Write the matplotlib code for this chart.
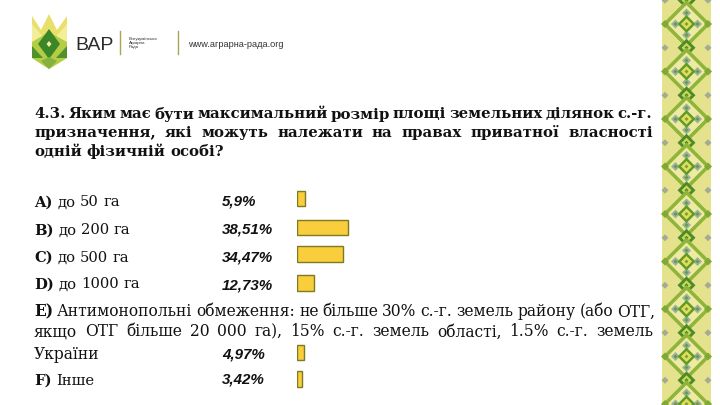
import matplotlib
matplotlib.use('Agg')
import matplotlib.pyplot as plt
from matplotlib.patches import Polygon, Rectangle

# answers and shares (%)
letters = ['A)', 'B)', 'C)', 'D)', 'E)', 'F)']
answers = ['до 50 га', 'до 200 га', ' до 500 га', 'до 1000 га', None, 'Інше']
shares = [5.9, 38.51, 34.47, 12.73, 4.97, 3.42]
share_labels = ['5,9%', '38,51%', '34,47%', '12,73%', '4,97%', '3,42%']

title_lines = [
    '4.3. Яким має бути максимальний розмір площі земельних ділянок с.-г.',
    'призначення, які можуть належати на правах приватної власності',
    'одній фізичній особі?',
]
e_lines = [
    'Антимонопольні обмеження: не більше 30% с.-г. земель району (або ОТГ,',
    'якщо ОТГ більше 20 000 га), 15% с.-г. земель області, 1.5% с.-г. земель',
    'України',
]

# layout (pixels from top)
row_y = [198.5, 227.5, 254, 283, 352.5, 379]
label_base = [206.5, 234.5, 261.5, 288.5, 359, 385]
pct_base = [205.5, 234, 261, 289.5, 358.5, 383]

SERIF = 'DejaVu Serif'
SANS = 'Liberation Sans'

fig = plt.figure(figsize=(7.2, 4.05), dpi=100)
ov = fig.add_axes([0, 0, 1, 1])
ov.set_xlim(0, 720)
ov.set_ylim(405, 0)
ov.axis('off')
r = fig.canvas.get_renderer()


def width(t):
    return t.get_window_extent(r).width


def put_line(words, x0, y, x1=None, size=11, family=SERIF):
    # words: list of (text, weight); justified when x1 is given
    ts = [ov.text(0, y, w, fontsize=size, family=family, fontweight=wt,
                  va='baseline', ha='left', color='#111111') for w, wt in words]
    ws = [width(t) for t in ts]
    if x1 is not None and len(ts) > 1:
        gap = (x1 - x0 - sum(ws)) / (len(ts) - 1)
    else:
        a = ov.text(0, 0, 'x x', fontsize=size, family=family)
        b = ov.text(0, 0, 'xx', fontsize=size, family=family)
        gap = width(a) - width(b)
        a.remove(); b.remove()
    x = x0
    for t, w in zip(ts, ws):
        t.set_x(x)
        x += w + gap


def plain(s, wt='normal'):
    return [(w, wt) for w in s.split()]


# title
put_line(plain(title_lines[0], 'bold'), 34, 118.5, 652, size=10.7)
put_line(plain(title_lines[1], 'bold'), 34, 137, 653, size=10.7)
put_line(plain(title_lines[2], 'bold'), 34, 156, size=10.7)

# answers
for i, let in enumerate(letters):
    if answers[i] is None:
        put_line([(let, 'bold')] + plain(e_lines[0]), 34, 316.5, 655, size=11.2)
        put_line(plain(e_lines[1]), 34, 336.5, 653, size=11.2)
        put_line(plain(e_lines[2]), 34, label_base[i], size=11.2)
    else:
        put_line([(let, 'bold')] + plain(answers[i]), 34, label_base[i], size=10.6)
    ov.text(222, pct_base[i], share_labels[i], fontsize=10.9, family=SANS,
            fontweight='bold', style='italic', va='baseline', color='#111111')

# bars
bx = fig.add_axes([297 / 720, 0, 133 / 720, 1])
bx.set_xlim(0, 100)
bx.set_ylim(405, 0)
bx.axis('off')
bx.barh(row_y, shares, height=15.5, color='#f9cd3c', edgecolor='#7d7a22', linewidth=1.0)

# logo
ov.add_patch(Polygon([(32, 16), (41, 30), (49, 14), (57, 30), (67, 16), (67, 58), (49, 69), (32, 58)],
                     closed=True, fc='#e8e06a', ec='none'))
ov.add_patch(Polygon([(32, 24), (44, 38), (32, 50)], closed=True, fc='#f2ee9a', ec='none'))
ov.add_patch(Polygon([(67, 24), (55, 38), (67, 50)], closed=True, fc='#f2ee9a', ec='none'))
ov.add_patch(Polygon([(32, 42), (49, 32), (67, 42), (67, 58), (49, 69), (32, 58)],
                     closed=True, fc='#b5cc45', ec='none'))
ov.add_patch(Polygon([(49, 29), (60, 44), (49, 59), (38, 44)], closed=True, fc='#3a8628', ec='none'))
ov.add_patch(Polygon([(32, 46), (43, 58), (32, 58)], closed=True, fc='#4f922c', ec='none'))
ov.add_patch(Polygon([(67, 46), (56, 58), (67, 58)], closed=True, fc='#4f922c', ec='none'))
ov.add_patch(Polygon([(41, 61), (49, 69), (57, 61), (49, 57)], closed=True, fc='#86b040', ec='none'))
ov.add_patch(Polygon([(49, 41), (51.5, 44), (49, 47), (46.5, 44)], closed=True, fc='#f4f0a0', ec='none'))
ov.text(75, 50.5, 'ВАР', fontsize=14, family=SANS, color='#2b2b2b', va='baseline')
ov.plot([120, 120], [31, 54], color='#a5a65a', lw=1.0)
ov.text(129, 43, 'Всеукраїнська\nАграрна\nРада', fontsize=3.2, family=SANS, color='#333333',
        va='center', linespacing=1.1)
ov.plot([178, 178], [31, 54], color='#a5a65a', lw=1.0)
ov.text(188, 47, 'www.аграрна-рада.org', fontsize=6.6, family=SANS, color='#333333', va='baseline')


# embroidered border strip
def diamond(cx, cy, h, fc):
    ov.add_patch(Polygon([(cx - h, cy), (cx, cy - h), (cx + h, cy), (cx, cy + h)],
                         closed=True, fc=fc, ec='none'))


ov.add_patch(Rectangle((662, 0), 49, 405, fc='#e4e28c', ec='none'))
period = 47.5
cx = 686.5
k = -1
while k * period < 430:
    cy = 24 + k * period
    diamond(cx, cy, 24, '#8fb43a')
    diamond(cx, cy, 19, '#eeeaa2')
    for dx, dy in ((-11, 0), (11, 0), (0, -11), (0, 11)):
        diamond(cx + dx, cy + dy, 4.5, '#98b2a0')
        diamond(cx + dx, cy + dy, 2, '#6f9a3a')
    diamond(cx, cy, 9, '#5f9a2c')
    diamond(cx, cy, 5.5, '#e4de52')
    diamond(cx, cy, 2, '#7c9c52')
    # knot between the big diamonds
    my = cy + period / 2
    diamond(cx, my, 9, '#4e8a28')
    diamond(cx, my, 5, '#c9d85a')
    diamond(cx, my, 2, '#4e8a28')
    for sx in (665, 708):
        diamond(sx, my, 3.5, '#a3ab92')
        diamond(sx, cy, 4, '#7fa834')
    k += 1

fig.savefig('out.png', dpi=100)
